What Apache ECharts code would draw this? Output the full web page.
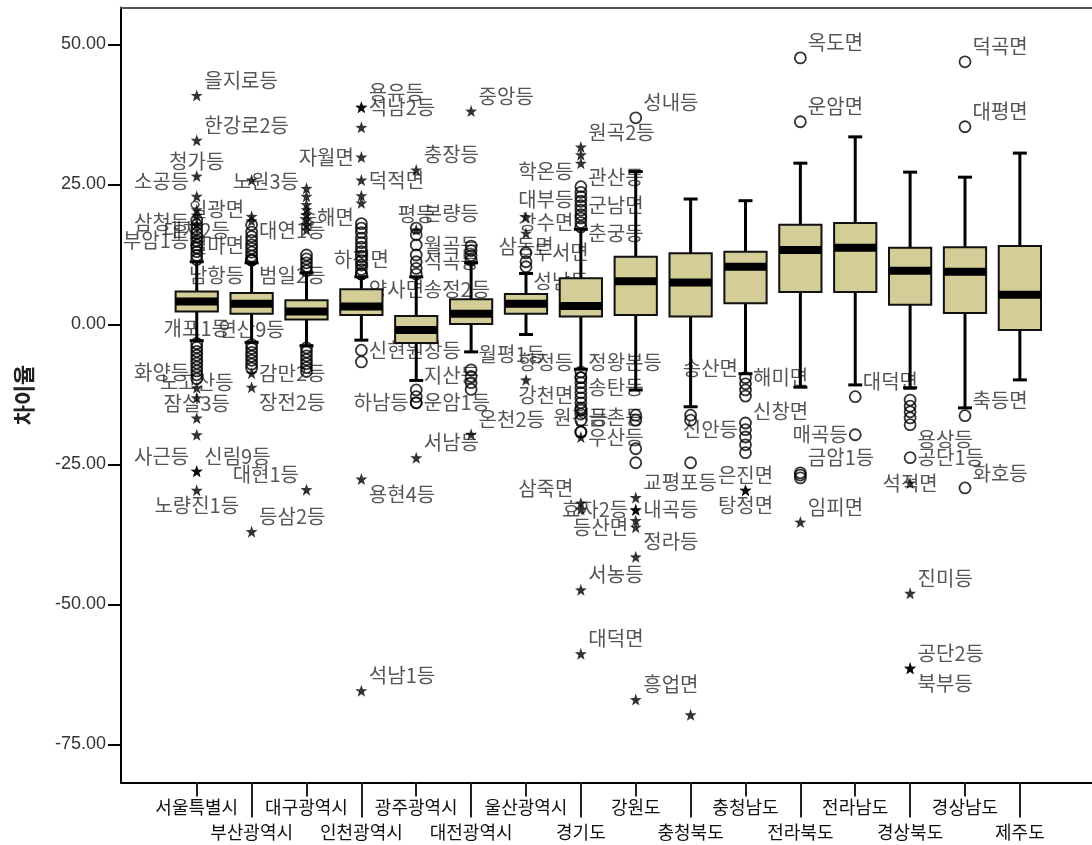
<!DOCTYPE html>
<html><head><meta charset="utf-8">
<script src="https://cdn.jsdelivr.net/npm/echarts@6/dist/echarts.min.js"></script>
<style>html,body{margin:0;padding:0;background:#fff}#c{width:1092px;height:845px}</style>
</head><body><div id="c"></div>
<script>
// ---------- data ----------
const categories = ['서울특별시','부산광역시','대구광역시','인천광역시','광주광역시','대전광역시','울산광역시','경기도','강원도','충청북도','충청남도','전라북도','전라남도','경상북도','경상남도','제주도'];
const yTicks = [50, 25, 0, -25, -50, -75];
// [lower whisker, Q1, median, Q3, upper whisker]
const boxStats = [
  [-2.9, 2.3, 4.1, 5.9, 11.2],
  [-3.2, 1.9, 3.7, 5.6, 11.0],
  [-3.8, 0.9, 2.3, 4.3, 9.2],
  [-2.8, 1.7, 3.2, 6.3, 8.5],
  [-10.0, -3.3, -1.0, 1.5, 8.5],
  [-4.9, 0.1, 1.9, 4.5, 11.0],
  [-1.8, 1.9, 3.7, 5.45, 9.1],
  [-8.0, 1.4, 3.3, 8.25, 17.0],
  [-11.7, 1.7, 7.7, 12.1, 27.3],
  [-14.7, 1.4, 7.5, 12.7, 22.4],
  [-8.8, 3.8, 10.3, 13.0, 22.1],
  [-11.2, 5.8, 13.3, 17.8, 28.8],
  [-10.8, 5.8, 13.7, 18.1, 33.5],
  [-11.3, 3.5, 9.6, 13.7, 27.2],
  [-14.9, 2.05, 9.4, 13.8, 26.3],
  [-9.9, -1.0, 5.3, 14.0, 30.6]
];
// [category index, value, label]
const circleOutliers = [
  [0,11.6,''],[0,12.3,'부암1등'],[0,13.0,''],[0,13.7,''],[0,14.2,'대치2등'],[0,14.9,''],[0,15.6,'삼청등'],[0,16.3,''],[0,17.0,''],[0,17.8,''],[0,18.6,''],
  [0,-3.4,'개포1등'],[0,-4.1,''],[0,-4.8,''],[0,-5.5,''],[0,-6.2,''],[0,-6.9,''],[0,-7.6,''],[0,-8.3,''],[0,-9.0,''],[0,-9.7,''],
  [1,11.5,'남항등'],[1,11.5,'범일2등'],[1,11.5,'철마면'],[1,12.2,''],[1,12.9,''],[1,13.6,''],[1,14.2,'대연1등'],[1,15.0,''],[1,15.7,''],[1,16.5,''],[1,17.8,'일광면'],
  [1,-3.6,'연산9등'],[1,-4.3,''],[1,-5.0,''],[1,-5.7,''],[1,-6.4,''],[1,-7.1,''],[1,-7.8,''],
  [2,9.6,''],[2,10.3,''],[2,11.0,''],[2,11.7,''],[2,12.4,''],
  [2,-4.2,''],[2,-4.9,''],[2,-5.6,''],[2,-6.3,''],[2,-7.0,''],[2,-7.7,''],[2,-8.4,''],
  [3,9.0,'하점면'],[3,9.0,'양사면'],[3,9.8,''],[3,10.6,''],[3,11.4,''],[3,12.2,''],[3,13.0,''],[3,13.8,''],[3,14.6,''],[3,15.4,''],[3,16.4,'송해면'],[3,17.2,''],[3,18.0,''],
  [3,-4.6,'신현원창등'],[3,-6.7,''],
  [4,9.0,'송정2등'],[4,10.0,''],[4,11.2,'석곡등'],[4,12.4,''],[4,14.2,'월곡등'],[4,16.0,''],[4,17.2,'본량등'],
  [4,-11.7,'지산등'],[4,-12.9,''],[4,-14.0,'하남등'],[4,-14.0,'운암1등'],
  [5,11.5,''],[5,12.3,''],[5,13.2,''],[5,14.0,''],
  [5,-8.1,'월평1등'],[5,-9.3,''],[5,-10.4,''],[5,-11.6,''],
  [6,10.3,'성남등'],[6,11.2,'삼동면'],[6,12.8,'두서면'],
  [7,17.4,''],[7,18.2,'창수면'],[7,19.0,'춘궁등'],[7,19.6,'대부등'],[7,20.4,''],[7,21.2,'군남면'],[7,22.0,''],[7,22.8,''],[7,23.6,'관산등'],[7,24.6,'학온등'],
  [7,-8.5,''],[7,-9.5,'향정등'],[7,-9.5,'정왕본등'],[7,-10.4,''],[7,-11.3,''],[7,-12.2,''],[7,-13.1,''],[7,-14.0,'송탄등'],[7,-14.9,''],[7,-15.3,'강천면'],[7,-16.0,''],[7,-17.1,''],[7,-19.2,'원천등'],[7,-19.2,'금촌등'],
  [8,36.9,'성내등'],[8,-16.2,''],[8,-17.1,''],[8,-22.2,''],[8,-24.7,''],
  [9,-16.2,''],[9,-17.1,''],[9,-24.7,''],
  [10,-9.5,'해미면'],[10,-10.6,'송산면'],[10,-11.7,''],[10,-12.8,'신창면'],[10,-17.6,''],[10,-18.8,''],[10,-20.1,''],[10,-21.5,'신안등'],[10,-22.9,''],
  [11,47.6,'옥도면'],[11,36.2,'운암면'],[11,-26.5,'금암1등'],[11,-26.9,''],[11,-27.4,''],
  [12,-12.9,'대덕면'],[12,-19.7,'매곡등'],
  [13,-13.5,''],[13,-14.6,''],[13,-15.6,''],[13,-16.7,''],[13,-17.9,'용상등'],[13,-23.8,'공단1등'],
  [14,46.9,'덕곡면'],[14,35.3,'대평면'],[14,-16.3,'축등면'],[14,-29.2,'화호등']
];
const starOutliers = [
  [0,40.9,'을지로등'],[0,32.9,'한강로2등'],[0,26.5,'청가등'],[0,22.9,'소공등'],[0,20.5,''],[0,19.5,''],[0,18.0,''],
  [0,-11.3,'화양등'],[0,-13.1,'노고산등'],[0,-16.7,'잠실3등'],[0,-19.7,''],[0,-26.2,'사근등'],[0,-26.2,'신림9등'],[0,-29.6,'노량진1등'],
  [1,25.8,''],[1,19.3,''],[1,18.5,''],[1,-8.7,'감만2등'],[1,-11.2,'장전2등'],[1,-37.0,'등삼2등'],
  [2,16.9,''],[2,17.8,''],[2,18.7,''],[2,19.6,''],[2,20.5,''],[2,21.4,''],[2,22.9,'노원3등'],[2,24.3,''],[2,-29.5,'대현1등'],
  [3,38.8,'석남2등'],[3,38.8,'용유등'],[3,35.2,''],[3,29.9,'자월면'],[3,25.8,'덕적면'],[3,23.0,''],[3,21.7,''],[3,-27.6,'용현4등'],[3,-65.4,'석남1등'],
  [4,27.6,'충장등'],[4,16.9,'평등'],[4,-23.8,'서남등'],
  [5,38.1,'중앙등'],[5,-19.6,'온천2등'],
  [6,19.2,''],[6,16.3,''],[6,-9.9,''],
  [7,31.7,'원곡2등'],[7,30.3,''],[7,28.8,''],[7,-20.1,'우산등'],[7,-31.9,'삼죽면'],[7,-33.0,''],[7,-47.4,'서농등'],[7,-58.8,'대덕면'],
  [8,-30.9,'교평포등'],[8,-33.1,'내곡등'],[8,-33.1,'효자2등'],[8,-35.0,''],[8,-36.2,'등산면'],[8,-41.5,'정라등'],[8,-67.0,'흥업면'],
  [9,-69.7,''],
  [10,-29.6,'은진면'],[10,-29.6,'탕정면'],
  [11,-35.3,'임피면'],
  [13,-28.3,'석적면'],[13,-48.0,'진미등'],[13,-61.4,'공단2등'],[13,-61.4,'북부등']
];

// ---------- styles ----------
const Y_MIN = -81.8, Y_MAX = 56.6;
const KFONT = "'Noto Sans CJK KR', 'Noto Sans', sans-serif";
const labelPlace = {
  la: ['소공등','삼청등','부암1등','화양등','사근등','일광면','철마면','노원3등','대현1등','송해면','학온등','대부등','삼죽면','강천면','향정등','송산면','신안등'],
  lm: ['자월면','하남등','창수면','효자2등','등산면','매곡등'],
  lb: ['남항등'],
  ca: ['청가등','대치2등','개포1등','연산9등','노고산등','잠실3등','하점면','평등','삼동면','원천등','은진면'],
  cb: ['노량진1등','탕정면'],
  cm: ['석적면'],
  rm: ['석남2등','덕적면','신현원창등','석곡등','월곡등','운암1등','두서면','군남면','우산등','내곡등','해미면','공단1등','감만2등'],
  rb: ['범일2등','장전2등','양사면','송정2등','용현4등','성남등','춘궁등','신창면','용상등','북부등']
};
function codeFor(name){
  for (const k in labelPlace) if (labelPlace[k].indexOf(name) >= 0) return k;
  return 'ra';
}
function labelPos(code){
  const h = code[0];
  if (h === 'c') return {position: 'inside'};
  return {position: h === 'r' ? 'right' : 'left', distance: 2};
}
function labelDy(code){
  const v = code[1];
  return v === 'a' ? -15 : (v === 'b' ? 15 : 0);
}
const starPath = 'path://M0,-10L2.35,-3.24L9.51,-3.09L3.8,1.24L5.88,8.09L0,4.2L-5.88,8.09L-3.8,1.24L-9.51,-3.09L-2.35,-3.24Z';

const labelled = circleOutliers.concat(starOutliers).filter(d => d[2]);
const labelCodes = labelled.map(d => codeFor(d[2]));
const labelData = labelled.map((d, k) => ({
  name: d[2], value: [d[0], d[1]], label: labelPos(labelCodes[k])
}));

const chart = echarts.init(document.getElementById('c'), null, {renderer: 'canvas'});
const gridTop = 7.5, gridBottom = 62.5;
chart.setOption({
  animation: false,
  backgroundColor: '#fff',
  grid: [
    {left: 121, right: 0, top: gridTop, bottom: gridBottom},
    {left: 169.3, right: 44.7, top: gridTop, bottom: gridBottom}
  ],
  xAxis: [
    {gridIndex: 0, type: 'value', min: 0, max: 1, position: 'bottom',
     axisLine: {show: true, onZero: false, lineStyle: {color: '#000', width: 2}}, axisTick: {show: false}, axisLabel: {show: false}, splitLine: {show: false}},
    {gridIndex: 0, type: 'value', min: 0, max: 1, position: 'top',
     axisLine: {show: true, onZero: false, lineStyle: {color: '#555', width: 2}}, axisTick: {show: false}, axisLabel: {show: false}, splitLine: {show: false}},
    {gridIndex: 1, type: 'category', data: categories, position: 'bottom', boundaryGap: true,
     axisLine: {show: false, onZero: false},
     axisTick: {show: true, alignWithLabel: true, interval: 0, length: 14, lineStyle: {color: '#222', width: 2}},
     axisLabel: {show: true, interval: (i) => i % 2 === 0, margin: 16, fontSize: 18, color: '#111', fontFamily: KFONT},
     splitLine: {show: false}},
    {gridIndex: 1, type: 'category', data: categories, position: 'bottom', boundaryGap: true,
     axisLine: {show: false, onZero: false},
     axisTick: {show: true, alignWithLabel: true, interval: (i) => i % 2 === 1, length: 35, lineStyle: {color: '#222', width: 2}},
     axisLabel: {show: true, interval: (i) => i % 2 === 1, margin: 41, fontSize: 18, color: '#111', fontFamily: KFONT},
     splitLine: {show: false}}
  ],
  yAxis: [
    {gridIndex: 0, type: 'value', min: Y_MIN, max: Y_MAX,
     name: '차이율', nameLocation: 'middle', nameGap: 86,
     nameTextStyle: {fontSize: 22, fontWeight: 'bold', color: '#222', fontFamily: KFONT},
     axisLine: {show: true, lineStyle: {color: '#000', width: 2}},
     axisTick: {show: true, customValues: yTicks, length: 13, lineStyle: {color: '#000', width: 2}},
     axisLabel: {show: true, customValues: yTicks, margin: 15, fontSize: 18, color: '#333', fontFamily: "'Liberation Sans', Arial, sans-serif",
                 formatter: (v) => Number(v).toFixed(2)},
     splitLine: {show: false}},
    {gridIndex: 1, type: 'value', min: Y_MIN, max: Y_MAX, show: false, splitLine: {show: false}}
  ],
  series: [
    {
      type: 'scatter', name: 'labels', xAxisIndex: 3, yAxisIndex: 1, z: 2, silent: true,
      symbol: 'circle', symbolSize: 11, itemStyle: {color: 'rgba(0,0,0,0)'},
      label: {show: true, formatter: '{b}', fontSize: 20, color: '#2a2a2a', fontFamily: KFONT},
      labelLayout: function (p) { return {dy: labelDy(labelCodes[p.dataIndex]), hideOverlap: false}; },
      emphasis: {disabled: true},
      data: labelData
    },
    {
      type: 'custom', name: 'boxes', xAxisIndex: 2, yAxisIndex: 1, z: 3, silent: true,
      data: boxStats.map((s, i) => [i].concat(s)),
      encode: {x: 0, y: [1, 2, 3, 4, 5]},
      renderItem: function (params, api) {
        const i = api.value(0);
        const lo = api.coord([i, api.value(1)]);
        const q1 = api.coord([i, api.value(2)]);
        const md = api.coord([i, api.value(3)]);
        const q3 = api.coord([i, api.value(4)]);
        const hi = api.coord([i, api.value(5)]);
        const band = api.size([1, 0])[0];
        const bw = band * 0.77;
        const cw = 14;
        const x = lo[0];
        const ls = {stroke: '#000', lineWidth: 3};
        return {type: 'group', children: [
          {type: 'line', shape: {x1: x, y1: hi[1], x2: x, y2: q3[1]}, style: ls},
          {type: 'line', shape: {x1: x, y1: q1[1], x2: x, y2: lo[1]}, style: ls},
          {type: 'line', shape: {x1: x - cw / 2, y1: hi[1], x2: x + cw / 2, y2: hi[1]}, style: ls},
          {type: 'line', shape: {x1: x - cw / 2, y1: lo[1], x2: x + cw / 2, y2: lo[1]}, style: ls},
          {type: 'rect', shape: {x: x - bw / 2, y: q3[1], width: bw, height: q1[1] - q3[1]},
           style: {fill: '#d4cd98', stroke: '#111', lineWidth: 2}},
          {type: 'rect', shape: {x: x - bw / 2, y: md[1] - 4, width: bw, height: 8}, style: {fill: '#000'}}
        ]};
      }
    },
    {
      type: 'scatter', name: 'mild', xAxisIndex: 2, yAxisIndex: 1, z: 4, silent: true,
      symbol: 'circle', symbolSize: 11,
      itemStyle: {color: 'rgba(255,255,255,0)', borderColor: '#000', borderWidth: 1.8},
      emphasis: {disabled: true},
      data: circleOutliers.map(d => [d[0], d[1]])
    },
    {
      type: 'scatter', name: 'extreme', xAxisIndex: 2, yAxisIndex: 1, z: 4, silent: true,
      symbol: starPath, symbolSize: 12,
      itemStyle: {color: '#000'},
      emphasis: {disabled: true},
      data: starOutliers.map(d => [d[0], d[1]])
    }
  ]
});
</script>
</body></html>
